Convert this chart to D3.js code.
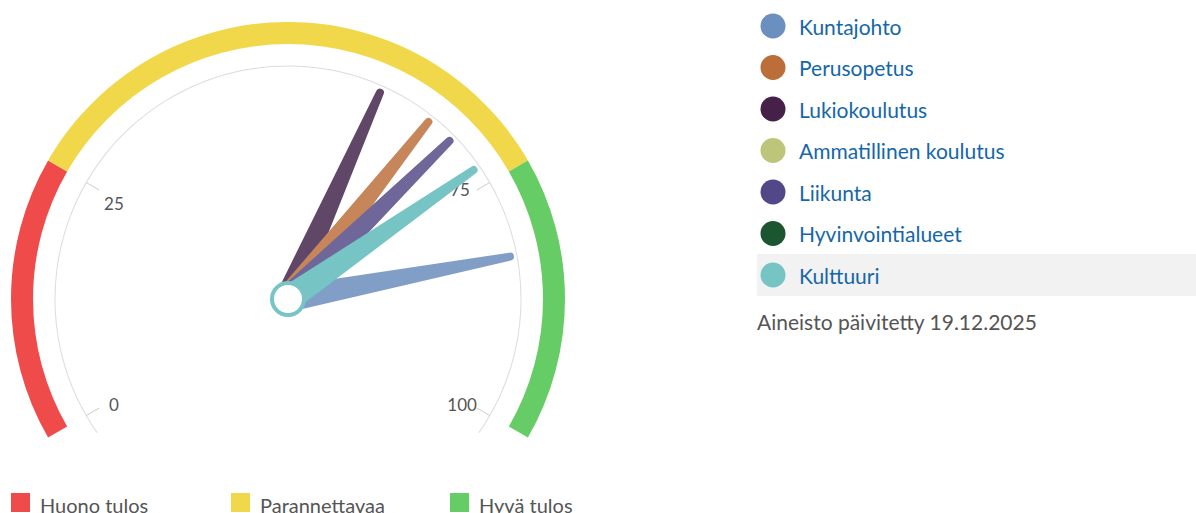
<!DOCTYPE html>
<html>
<head>
<meta charset="utf-8">
<script src="https://cdn.jsdelivr.net/npm/d3@7"></script>
<style>
  body { margin: 0; background: #fff; font-family: Lato, "Noto Sans", sans-serif; }
  svg { display: block; }
</style>
</head>
<body>
<div id="chart"></div>
<script>
// series (legend order), values read off the needles; null = no needle
var names = ["Kuntajohto", "Perusopetus", "Lukiokoulutus", "Ammatillinen koulutus", "Liikunta", "Hyvinvointialueet", "Kulttuuri"];
var values = [83, 66, 60, null, 69, null, 73];
var legendColors = ["#6b8fbf", "#bb6e37", "#45214a", "#bdc57a", "#524787", "#1b5631", "#76c4c4"];
var needleColors = ["#819fc6", "#c6865a", "#604767", "#bdc57a", "#6f6699", "#1b5631", "#76c4c4"];
var hovered = "Kulttuuri";

// bands
var bandNames = ["Huono tulos", "Parannettavaa", "Hyvä tulos"];
var bandFrom = [0, 25, 75];
var bandTo = [25, 75, 100];
var bandColors = ["#f04b4b", "#f0d84a", "#66cc66"];

var tickValues = [0, 25, 75, 100];
var updated = "Aineisto päivitetty 19.12.2025";

var width = 1196, height = 513;
var cx = 288, cy = 299;

var svg = d3.select("#chart").append("svg")
    .attr("width", width)
    .attr("height", height);

var angle = d3.scaleLinear().domain([0, 100]).range([-120, 120]);
var rad = function(v) { return angle(v) * Math.PI / 180; };

var g = svg.append("g").attr("transform", "translate(" + cx + "," + cy + ")");

// colour bands
var band = d3.arc().innerRadius(255).outerRadius(277);
g.selectAll(".band")
    .data(bandFrom)
    .enter()
    .append("path")
    .attr("class", "band")
    .attr("d", function(d, i) { return band({ startAngle: rad(bandFrom[i]), endAngle: rad(bandTo[i]) }); })
    .attr("fill", function(d, i) { return bandColors[i]; });

// axis line
g.append("path")
    .attr("d", d3.arc().innerRadius(232.5).outerRadius(233.5)({ startAngle: -125 * Math.PI / 180, endAngle: 125 * Math.PI / 180 }))
    .attr("fill", "#dcdcdc");

// ticks
g.selectAll(".tick")
    .data(tickValues)
    .enter()
    .append("line")
    .attr("class", "tick")
    .attr("x1", d => Math.sin(rad(d)) * 218)
    .attr("y1", d => -Math.cos(rad(d)) * 218)
    .attr("x2", d => Math.sin(rad(d)) * 233)
    .attr("y2", d => -Math.cos(rad(d)) * 233)
    .style("stroke", "#cccccc")
    .style("stroke-width", 1);

// labels sit a little lower than the tick ends, except the upper right one
g.selectAll(".tlabel")
    .data(tickValues)
    .enter()
    .append("text")
    .attr("class", "tlabel")
    .attr("x", d => Math.sin(rad(d)) * 201 - (d > 50 && d < 100 ? 2 : 0))
    .attr("y", d => -Math.cos(rad(d)) * 201 + (d > 50 && d < 100 ? -9 : 5))
    .attr("text-anchor", "middle")
    .attr("dominant-baseline", "central")
    .style("fill", "#555555")
    .style("font-size", "17px")
    .text(d => d);

// needles
var L = 226, bw = 26, tw = 8;
var needlePath = "M" + (-bw / 2) + ",0 L" + (-tw / 2) + "," + (-L) +
    " A" + (tw / 2) + "," + (tw / 2) + " 0 0 1 " + (tw / 2) + "," + (-L) +
    " L" + (bw / 2) + ",0 Z";

var order = d3.range(names.length)
    .filter(i => values[i] !== null)
    .sort((a, b) => {
        if (names[a] === hovered) return 1;
        if (names[b] === hovered) return -1;
        return values[a] - values[b];
    });

g.selectAll(".needle")
    .data(order)
    .enter()
    .append("path")
    .attr("class", "needle")
    .attr("d", needlePath)
    .attr("transform", i => "rotate(" + angle(values[i]) + ")")
    .attr("fill", i => needleColors[i]);

// pivot
g.append("circle")
    .attr("r", 16)
    .attr("fill", "#ffffff")
    .style("stroke", needleColors[names.indexOf(hovered)])
    .style("stroke-width", 4);

// series legend
var rowH = 41.5, ly0 = 26;
var leg = svg.append("g");

leg.append("rect")
    .attr("x", 757)
    .attr("y", ly0 + names.indexOf(hovered) * rowH - 21)
    .attr("width", width - 757)
    .attr("height", 42)
    .attr("fill", "#f2f2f2");

var rows = leg.selectAll(".lrow")
    .data(names)
    .enter()
    .append("g")
    .attr("class", "lrow")
    .attr("transform", (d, i) => "translate(0," + (ly0 + i * rowH) + ")");

rows.append("circle")
    .attr("cx", 773)
    .attr("cy", 0)
    .attr("r", 12.5)
    .attr("fill", (d, i) => legendColors[i]);

rows.append("text")
    .attr("x", 799)
    .attr("y", 0)
    .attr("dominant-baseline", "central")
    .style("fill", "#1567a8")
    .style("font-size", "21px")
    .text(d => d);

svg.append("text")
    .attr("x", 757)
    .attr("y", 321)
    .attr("dominant-baseline", "central")
    .style("fill", "#555555")
    .style("font-size", "21px")
    .text(updated);

// band legend
var bandX = [11, 231, 450];
var bl = svg.selectAll(".blg")
    .data(bandNames)
    .enter()
    .append("g")
    .attr("class", "blg")
    .attr("transform", (d, i) => "translate(" + bandX[i] + ",493)");

bl.append("rect")
    .attr("width", 19)
    .attr("height", 19)
    .attr("fill", (d, i) => bandColors[i]);

bl.append("text")
    .attr("x", 29)
    .attr("y", 12)
    .attr("dominant-baseline", "central")
    .style("fill", "#555555")
    .style("font-size", "20px")
    .text(d => d);
</script>
</body>
</html>
